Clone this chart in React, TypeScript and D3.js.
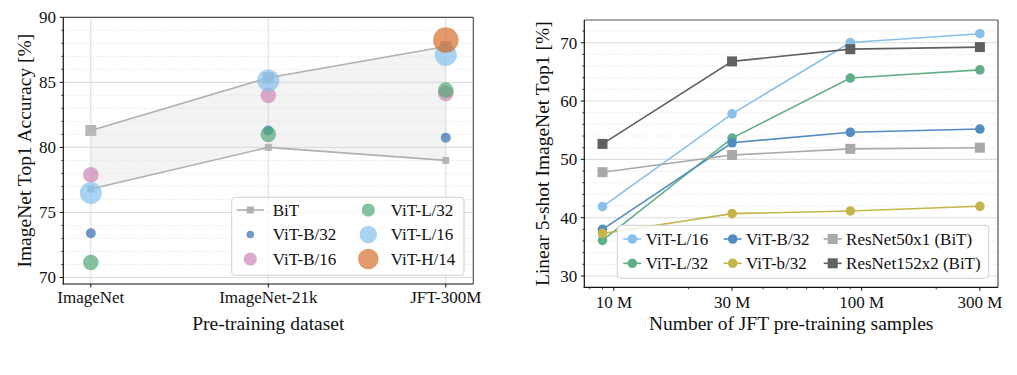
import React from "react";
import * as d3 from "d3";

// ---------- Left chart data ----------
const leftCats = ["ImageNet", "ImageNet-21k", "JFT-300M"];
const bitUpper = [81.3, 85.35, 87.75];
const bitLower = [76.8, 80.0, 79.0];
const vitB32 = [73.4, 81.3, 80.75];
const vitB16 = [77.9, 84.0, 84.15];
const vitL32 = [71.15, 81.0, 84.4];
const vitL16 = [76.5, 85.15, 87.1];
const vitH14: (number | null)[] = [null, null, 88.25];
const leftYTicks = [70, 75, 80, 85, 90];

// ---------- Right chart data ----------
const samples = [9e6, 30e6, 90e6, 300e6];
const xTickVals = [10e6, 30e6, 100e6, 300e6];
const xTickLabels = ["10 M", "30 M", "100 M", "300 M"];
const rL16 = [41.9, 57.8, 70.05, 71.55];
const rL32 = [36.1, 53.65, 63.95, 65.35];
const rB32 = [38.0, 52.85, 54.65, 55.2];
const rb32 = [37.3, 40.7, 41.15, 41.95];
const rR50 = [47.8, 50.75, 51.8, 52.0];
const rR152 = [52.65, 66.8, 68.9, 69.25];
const rightYTicks = [30, 40, 50, 60, 70];

const FONT = "'Liberation Serif', 'DejaVu Serif', serif";
const TXT = "#111";
const GRID = "#dddddd";

function LeftChart() {
  const L = 63.3, R = 473.3, T = 17.3, B = 284;
  const x = d3.scalePoint<string>().domain(leftCats).range([L, R]).padding(0.155);
  const y = d3.scaleLinear().domain([69.5, 90]).range([B, T]);
  const minor = d3.range(70, 91).filter((v) => v % 5 !== 0);
  const area = d3
    .area<number>()
    .x((_, i) => x(leftCats[i])!)
    .y0((_, i) => y(bitLower[i]))
    .y1((d) => y(d));
  const line = d3
    .line<number>()
    .x((_, i) => x(leftCats[i])!)
    .y((d) => y(d));

  const vitSeries = [
    { name: "ViT-B/32", vals: vitB32 as (number | null)[], color: "#336db0", r: 5, lr: 3.8 },
    { name: "ViT-B/16", vals: vitB16 as (number | null)[], color: "#cd86b5", r: 7.8, lr: 6.6 },
    { name: "ViT-L/32", vals: vitL32 as (number | null)[], color: "#52a876", r: 7.8, lr: 6.6 },
    { name: "ViT-L/16", vals: vitL16 as (number | null)[], color: "#83c0ec", r: 11, lr: 8.7 },
    { name: "ViT-H/14", vals: vitH14, color: "#d66f2e", r: 12.7, lr: 10.3 },
  ];
  const bitColor = "#b0b0b0";

  const legendRows = [210, 234.5, 259];
  const col1 = 250.3, col2 = 368.3;
  const legItems = [
    { kind: "bit", name: "BiT", cx: col1, cy: legendRows[0] },
    { kind: "c", s: vitSeries[0], cx: col1, cy: legendRows[1] },
    { kind: "c", s: vitSeries[1], cx: col1, cy: legendRows[2] },
    { kind: "c", s: vitSeries[2], cx: col2, cy: legendRows[0] },
    { kind: "c", s: vitSeries[3], cx: col2, cy: legendRows[1] },
    { kind: "c", s: vitSeries[4], cx: col2, cy: legendRows[2] },
  ];

  return (
    <g>
      {/* grid */}
      {minor.map((v) => (
        <line key={"mn" + v} x1={L} x2={R} y1={y(v)} y2={y(v)} stroke={GRID} strokeWidth={0.9} strokeDasharray="1,2" />
      ))}
      {leftYTicks.map((v) => (
        <line key={"mj" + v} x1={L} x2={R} y1={y(v)} y2={y(v)} stroke={GRID} strokeWidth={1.1} />
      ))}
      {leftCats.map((c) => (
        <line key={"vg" + c} x1={x(c)} x2={x(c)} y1={T} y2={B} stroke={GRID} strokeWidth={1.1} />
      ))}
      {/* BiT band */}
      <path d={area(bitUpper) || ""} fill="#dcdcdc" fillOpacity={0.35} />
      <path d={line(bitUpper) || ""} fill="none" stroke={bitColor} strokeWidth={1.6} />
      <path d={line(bitLower) || ""} fill="none" stroke={bitColor} strokeWidth={1.6} />
      {bitUpper.map((v, i) => (
        <rect key={"bu" + i} x={x(leftCats[i])! - 5.5} y={y(v) - 5.5} width={11} height={11} fill={bitColor} fillOpacity={0.9} />
      ))}
      {bitLower.map((v, i) => (
        <rect key={"bl" + i} x={x(leftCats[i])! - 3.5} y={y(v) - 3.5} width={7} height={7} fill={bitColor} fillOpacity={0.9} />
      ))}
      {/* ViT points */}
      {vitSeries.map((s) =>
        s.vals.map((v, i) =>
          v == null ? null : (
            <circle key={s.name + i} cx={x(leftCats[i])} cy={y(v)} r={s.r} fill={s.color} fillOpacity={0.7} />
          )
        )
      )}
      {/* spines */}
      <line x1={L} x2={R} y1={T} y2={T} stroke="#555" strokeWidth={1.2} />
      <line x1={R} x2={R} y1={T} y2={B} stroke="#555" strokeWidth={1.2} />
      <line x1={L} x2={L} y1={T} y2={B + 0.6} stroke="#111" strokeWidth={1.2} />
      <line x1={L - 0.6} x2={R} y1={B} y2={B} stroke="#111" strokeWidth={1.2} />
      {/* ticks */}
      {leftYTicks.map((v) => (
        <g key={"yt" + v}>
          <line x1={L - 3.5} x2={L} y1={y(v)} y2={y(v)} stroke="#111" strokeWidth={1} />
          <text x={56} y={y(v)} dy="0.35em" textAnchor="end" fontSize={17} fontFamily={FONT} fill={TXT}>{v}</text>
        </g>
      ))}
      {minor.map((v) => (
        <line key={"ym" + v} x1={L - 2} x2={L} y1={y(v)} y2={y(v)} stroke="#111" strokeWidth={0.8} />
      ))}
      {leftCats.map((c) => (
        <g key={"xt" + c}>
          <line x1={x(c)} x2={x(c)} y1={B} y2={B + 3.5} stroke="#111" strokeWidth={1} />
          <text x={x(c)} y={303} textAnchor="middle" fontSize={17} fontFamily={FONT} fill={TXT}>{c}</text>
        </g>
      ))}
      <text x={(L + R) / 2} y={329.5} textAnchor="middle" fontSize={19.5} fontFamily={FONT} fill={TXT}>Pre-training dataset</text>
      <text transform={`translate(30.5,${(T + B) / 2}) rotate(-90)`} textAnchor="middle" fontSize={19.5} fontFamily={FONT} fill={TXT}>ImageNet Top1 Accuracy [%]</text>
      {/* legend */}
      <rect x={231.7} y={197.3} width={232.3} height={78} rx={3} fill="#fff" fillOpacity={0.8} stroke="#d0d0d0" strokeWidth={1} />
      {legItems.map((it, i) => (
        <g key={"lg" + i}>
          {it.kind === "bit" ? (
            <g>
              <line x1={it.cx - 13.6} x2={it.cx + 13.6} y1={it.cy} y2={it.cy} stroke={bitColor} strokeWidth={1.6} />
              <rect x={it.cx - 3.5} y={it.cy - 3.5} width={7} height={7} fill={bitColor} />
            </g>
          ) : (
            <circle cx={it.cx} cy={it.cy} r={it.s!.lr} fill={it.s!.color} fillOpacity={0.7} />
          )}
          <text x={it.cx + 22.4} y={it.cy} dy="0.35em" fontSize={17} fontFamily={FONT} fill={TXT}>
            {it.kind === "bit" ? "BiT" : it.s!.name}
          </text>
        </g>
      ))}
    </g>
  );
}

function RightChart() {
  const L = 584.3, R = 998, T = 20, B = 287.3;
  const x = d3.scaleLog().domain([7.6e6, 3.55e8]).range([L, R]);
  const y = d3.scaleLinear().domain([28.06, 73.9]).range([B, T]);
  const minorY = d3.range(28, 74, 2).filter((v) => v % 10 !== 0 && v >= 28.06);
  const minorX = [8e6, 9e6, 20e6, 40e6, 50e6, 60e6, 70e6, 80e6, 90e6, 200e6];
  const line = d3
    .line<number>()
    .x((_, i) => x(samples[i]))
    .y((d) => y(d));

  const series = [
    { name: "ViT-L/16", vals: rL16, color: "#89c0ea", sq: false },
    { name: "ViT-L/32", vals: rL32, color: "#62ae88", sq: false },
    { name: "ViT-B/32", vals: rB32, color: "#548cc2", sq: false },
    { name: "ViT-b/32", vals: rb32, color: "#c4b64a", sq: false },
    { name: "ResNet50x1 (BiT)", vals: rR50, color: "#a9a9a9", sq: true },
    { name: "ResNet152x2 (BiT)", vals: rR152, color: "#606060", sq: true },
  ];
  const rows = [239, 263.3];
  const cols = [632.3, 732.7, 832.7];

  const marker = (s: any, cx: number, cy: number, key: string) =>
    s.sq ? (
      <rect key={key} x={cx - 5} y={cy - 5} width={10} height={10} fill={s.color} />
    ) : (
      <circle key={key} cx={cx} cy={cy} r={4.8} fill={s.color} />
    );

  return (
    <g>
      {minorY.map((v) => (
        <line key={"mn" + v} x1={L} x2={R} y1={y(v)} y2={y(v)} stroke={GRID} strokeWidth={0.9} strokeDasharray="1,2" />
      ))}
      {rightYTicks.map((v) => (
        <line key={"mj" + v} x1={L} x2={R} y1={y(v)} y2={y(v)} stroke={GRID} strokeWidth={1.1} />
      ))}
      {series.map((s) => (
        <g key={s.name}>
          <path d={line(s.vals) || ""} fill="none" stroke={s.color} strokeWidth={1.6} />
          {s.vals.map((v, i) => marker(s, x(samples[i]), y(v), s.name + i))}
        </g>
      ))}
      {/* spines */}
      <line x1={L} x2={R} y1={T} y2={T} stroke="#555" strokeWidth={1.2} />
      <line x1={R} x2={R} y1={T} y2={B} stroke="#555" strokeWidth={1.2} />
      <line x1={L} x2={L} y1={T} y2={B + 0.6} stroke="#111" strokeWidth={1.2} />
      <line x1={L - 0.6} x2={R} y1={B} y2={B} stroke="#111" strokeWidth={1.2} />
      {rightYTicks.map((v) => (
        <g key={"yt" + v}>
          <line x1={L - 3.5} x2={L} y1={y(v)} y2={y(v)} stroke="#111" strokeWidth={1} />
          <text x={577.3} y={y(v)} dy="0.35em" textAnchor="end" fontSize={17} fontFamily={FONT} fill={TXT}>{v}</text>
        </g>
      ))}
      {minorY.map((v) => (
        <line key={"ym" + v} x1={L - 2} x2={L} y1={y(v)} y2={y(v)} stroke="#111" strokeWidth={0.8} />
      ))}
      {xTickVals.map((v, i) => (
        <g key={"xt" + v}>
          <line x1={x(v)} x2={x(v)} y1={B} y2={B + 3.5} stroke="#111" strokeWidth={1} />
          <text x={x(v)} y={308} textAnchor="middle" fontSize={17} fontFamily={FONT} fill={TXT}>{xTickLabels[i]}</text>
        </g>
      ))}
      {minorX.map((v) => (
        <line key={"xm" + v} x1={x(v)} x2={x(v)} y1={B} y2={B + 2} stroke="#111" strokeWidth={0.8} />
      ))}
      <text x={(L + R) / 2} y={329.5} textAnchor="middle" fontSize={19.5} fontFamily={FONT} fill={TXT}>Number of JFT pre-training samples</text>
      <text transform={`translate(549,${(T + B) / 2}) rotate(-90)`} textAnchor="middle" fontSize={19.5} fontFamily={FONT} fill={TXT}>Linear 5-shot ImageNet Top1 [%]</text>
      {/* legend */}
      <rect x={617.3} y={225.3} width={371.4} height={53} rx={3} fill="#fff" fillOpacity={0.8} stroke="#d0d0d0" strokeWidth={1} />
      {series.map((s, i) => {
        const cx = cols[Math.floor(i / 2)];
        const cy = rows[i % 2];
        return (
          <g key={"lg" + s.name}>
            <line x1={cx - 9} x2={cx + 9} y1={cy} y2={cy} stroke={s.color} strokeWidth={1.6} />
            {marker(s, cx, cy, "lm" + i)}
            <text x={cx + 13.4} y={cy} dy="0.35em" fontSize={17} fontFamily={FONT} fill={TXT}>{s.name}</text>
          </g>
        );
      })}
    </g>
  );
}

export default function App() {
  return (
    <svg
      width={1017}
      height={375}
      viewBox="0 0 1017 375"
      style={{ position: "absolute", left: 0, top: 0, background: "#fff" }}
    >
      <rect width={1017} height={375} fill="#fff" />
      <LeftChart />
      <RightChart />
    </svg>
  );
}
